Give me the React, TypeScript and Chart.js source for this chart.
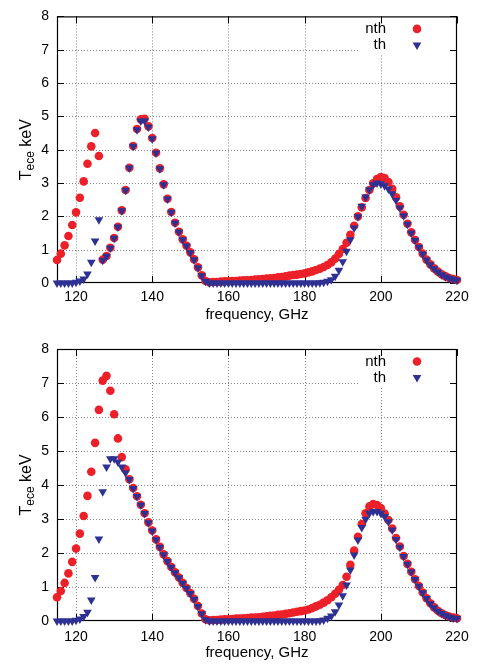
import React, { useEffect, useRef } from 'react';
import { Chart, registerables } from 'chart.js';

Chart.register(...registerables);

const FREQ = [
  115, 116, 117, 118, 119, 120, 121, 122, 123, 124, 125, 126, 127, 128, 129, 130, 131, 132, 133, 134,
  135, 136, 137, 138, 139, 140, 141, 142, 143, 144, 145, 146, 147, 148, 149, 150, 151, 152, 153, 154,
  155, 156, 157, 158, 159, 160, 161, 162, 163, 164, 165, 166, 167, 168, 169, 170, 171, 172, 173, 174,
  175, 176, 177, 178, 179, 180, 181, 182, 183, 184, 185, 186, 187, 188, 189, 190, 191, 192, 193, 194,
  195, 196, 197, 198, 199, 200, 201, 202, 203, 204, 205, 206, 207, 208, 209, 210, 211, 212, 213, 214,
  215, 216, 217, 218, 219, 220,
];

const TOP_NTH = [
  0.69, 0.88, 1.13, 1.41, 1.74, 2.12, 2.56, 3.05, 3.58, 4.10, 4.50, 3.81, 0.70, 0.81, 1.06, 1.35, 1.69, 2.18, 2.79, 3.46,
  4.11, 4.62, 4.91, 4.93, 4.70, 4.35, 3.91, 3.44, 2.96, 2.53, 2.13, 1.81, 1.54, 1.31, 1.12, 0.92, 0.71, 0.47, 0.23, 0.06,
  0.02, 0.03, 0.03, 0.04, 0.05, 0.05, 0.06, 0.06, 0.07, 0.08, 0.08, 0.09, 0.10, 0.11, 0.12, 0.13, 0.14, 0.15, 0.17, 0.18,
  0.20, 0.22, 0.24, 0.25, 0.27, 0.29, 0.32, 0.35, 0.39, 0.43, 0.48, 0.54, 0.62, 0.73, 0.87, 1.02, 1.21, 1.45, 1.72, 2.00,
  2.27, 2.55, 2.79, 2.99, 3.12, 3.18, 3.15, 3.03, 2.83, 2.57, 2.30, 2.05, 1.78, 1.52, 1.29, 1.08, 0.88, 0.70, 0.56, 0.44,
  0.34, 0.26, 0.20, 0.15, 0.12, 0.09,
];

const TOP_TH = [
  0, 0, 0, 0, 0, 0.02, 0.06, 0.12, 0.27, 0.62, 1.26, 1.90, 0.68, 0.80, 1.05, 1.34, 1.68, 2.17, 2.78, 3.45,
  4.10, 4.60, 4.86, 4.87, 4.68, 4.33, 3.90, 3.43, 2.95, 2.52, 2.12, 1.80, 1.53, 1.30, 1.11, 0.91, 0.70, 0.46, 0.22, 0.05,
  0, 0, 0, 0, 0, 0, 0, 0, 0, 0, 0, 0, 0, 0, 0, 0, 0, 0, 0, 0,
  0, 0, 0, 0, 0, 0, 0, 0, 0, 0.01, 0.02, 0.05, 0.10, 0.20, 0.38, 0.64, 0.95, 1.30, 1.65, 1.99,
  2.30, 2.58, 2.80, 2.95, 3.00, 2.98, 2.92, 2.82, 2.68, 2.48, 2.25, 2.02, 1.76, 1.50, 1.28, 1.07, 0.87, 0.69, 0.55, 0.43,
  0.33, 0.25, 0.19, 0.14, 0.11, 0.08,
];

const BOTTOM_NTH = [
  0.70, 0.88, 1.12, 1.40, 1.74, 2.13, 2.57, 3.09, 3.68, 4.39, 5.24, 6.21, 7.07, 7.21, 6.77, 6.08, 5.37, 4.82, 4.46, 4.17,
  3.91, 3.67, 3.42, 3.17, 2.90, 2.66, 2.40, 2.18, 1.96, 1.76, 1.59, 1.43, 1.28, 1.12, 0.97, 0.82, 0.65, 0.44, 0.22, 0.05,
  0.02, 0.03, 0.03, 0.04, 0.05, 0.05, 0.06, 0.07, 0.07, 0.08, 0.09, 0.10, 0.10, 0.11, 0.12, 0.14, 0.15, 0.16, 0.18, 0.19,
  0.21, 0.23, 0.25, 0.27, 0.29, 0.31, 0.34, 0.38, 0.43, 0.48, 0.54, 0.61, 0.70, 0.80, 0.92, 1.06, 1.30, 1.65, 2.07, 2.48,
  2.85, 3.17, 3.37, 3.44, 3.41, 3.32, 3.16, 2.97, 2.72, 2.44, 2.19, 1.91, 1.68, 1.45, 1.23, 1.03, 0.84, 0.67, 0.52, 0.40,
  0.30, 0.23, 0.17, 0.13, 0.10, 0.08,
];

const BOTTOM_TH = [
  0, 0, 0, 0, 0, 0.02, 0.06, 0.13, 0.26, 0.62, 1.28, 2.41, 3.80, 4.53, 4.77, 4.77, 4.68, 4.53, 4.36, 4.16,
  3.90, 3.66, 3.41, 3.16, 2.89, 2.65, 2.39, 2.17, 1.95, 1.75, 1.58, 1.42, 1.27, 1.11, 0.96, 0.81, 0.64, 0.43, 0.21, 0.04,
  0, 0, 0, 0, 0, 0, 0, 0, 0, 0, 0, 0, 0, 0, 0, 0, 0, 0, 0, 0,
  0, 0, 0, 0, 0, 0, 0, 0, 0, 0.01, 0.03, 0.08, 0.15, 0.27, 0.47, 0.74, 1.06, 1.50, 1.94, 2.38,
  2.75, 2.99, 3.17, 3.22, 3.22, 3.17, 3.07, 2.92, 2.68, 2.40, 2.17, 1.90, 1.67, 1.44, 1.22, 1.02, 0.83, 0.66, 0.51, 0.39,
  0.29, 0.22, 0.16, 0.12, 0.09, 0.07,
];

const X_TICKS = [120, 140, 160, 180, 200, 220];
const Y_TICKS = [0, 1, 2, 3, 4, 5, 6, 7, 8];
const X_MIN = 115;
const X_MAX = 220;
const Y_MIN = 0;
const Y_MAX = 8;
const SERIES_LABELS = ['nth', 'th'];
const X_TITLE = 'frequency, GHz';
const Y_TITLE_MAIN = 'T';
const Y_TITLE_SUB = 'ece';
const Y_TITLE_REST = ' keV';

const RED = '#EC2028';
const BLUE = '#2E3192';
const FONT = "'Liberation Sans', Arial, Helvetica, sans-serif";
const CIRCLE_R = 4.3;
const TRI_R = 5.0;

function drawDownTriangle(ctx: CanvasRenderingContext2D, x: number, y: number, r: number) {
  ctx.beginPath();
  for (let k = 0; k < 3; k++) {
    const ang = Math.PI + (k * 2 * Math.PI) / 3;
    const px = x + Math.sin(ang) * r;
    const py = y - Math.cos(ang) * r;
    if (k === 0) ctx.moveTo(px, py);
    else ctx.lineTo(px, py);
  }
  ctx.closePath();
  ctx.fill();
}

function makeDecoPlugin(xTitleOffset: number) {
  return {
    id: 'deco',
    beforeDatasetsDraw(chart: any) {
      const { ctx, chartArea: a } = chart;
      const xs = chart.scales.x;
      const ys = chart.scales.y;
      ctx.save();
      // dotted grid
      ctx.lineWidth = 1;
      ctx.strokeStyle = '#858585';
      ctx.setLineDash([1, 2]);
      ctx.beginPath();
      X_TICKS.forEach((v) => {
        if (v <= X_MIN || v >= X_MAX) return;
        const p = Math.round(xs.getPixelForValue(v)) + 0.5;
        ctx.moveTo(p, a.top);
        ctx.lineTo(p, a.bottom);
      });
      Y_TICKS.forEach((v) => {
        if (v <= Y_MIN || v >= Y_MAX) return;
        const p = Math.round(ys.getPixelForValue(v)) + 0.5;
        ctx.moveTo(a.left, p);
        ctx.lineTo(a.right, p);
      });
      ctx.stroke();
      ctx.setLineDash([]);
      // legend background
      ctx.fillStyle = '#ffffff';
      ctx.fillRect(a.right - 99, a.top + 1, 98, 36);
      // frame
      ctx.strokeStyle = '#000000';
      ctx.lineWidth = 1.2;
      ctx.strokeRect(a.left + 0.5, a.top + 0.5, a.right - a.left - 1, a.bottom - a.top - 1);
      // inward ticks
      const tl = 7;
      ctx.lineWidth = 1;
      ctx.beginPath();
      X_TICKS.forEach((v) => {
        const p = Math.round(xs.getPixelForValue(v)) + 0.5;
        ctx.moveTo(p, a.bottom);
        ctx.lineTo(p, a.bottom - tl);
        ctx.moveTo(p, a.top);
        ctx.lineTo(p, a.top + tl);
      });
      Y_TICKS.forEach((v) => {
        const p = Math.round(ys.getPixelForValue(v)) + 0.5;
        ctx.moveTo(a.left, p);
        ctx.lineTo(a.left + tl, p);
        ctx.moveTo(a.right, p);
        ctx.lineTo(a.right - tl, p);
      });
      ctx.stroke();
      ctx.restore();
    },
    afterDraw(chart: any) {
      const { ctx, chartArea: a } = chart;
      ctx.save();
      // legend
      ctx.font = `15px ${FONT}`;
      ctx.fillStyle = '#000';
      ctx.textAlign = 'right';
      ctx.textBaseline = 'middle';
      const tx = a.right - 71;
      const mx = a.right - 40;
      const y1 = a.top + 12.5;
      const y2 = a.top + 28.5;
      ctx.fillText(SERIES_LABELS[0], tx, y1);
      ctx.fillText(SERIES_LABELS[1], tx, y2);
      ctx.fillStyle = RED;
      ctx.beginPath();
      ctx.arc(mx, y1, CIRCLE_R, 0, Math.PI * 2);
      ctx.fill();
      ctx.fillStyle = BLUE;
      drawDownTriangle(ctx, mx, y2, TRI_R);
      // x title
      ctx.fillStyle = '#000';
      ctx.textAlign = 'center';
      ctx.textBaseline = 'alphabetic';
      ctx.font = `15px ${FONT}`;
      ctx.fillText(X_TITLE, (a.left + a.right) / 2, a.bottom + xTitleOffset);
      // y title (rotated, with subscript)
      ctx.translate(31, (a.top + a.bottom) / 2);
      ctx.rotate(-Math.PI / 2);
      ctx.textAlign = 'left';
      ctx.font = `16px ${FONT}`;
      const w1 = ctx.measureText(Y_TITLE_MAIN).width;
      const w3 = ctx.measureText(Y_TITLE_REST).width;
      ctx.font = `12px ${FONT}`;
      const w2 = ctx.measureText(Y_TITLE_SUB).width;
      let x = -(w1 + w2 + w3) / 2;
      ctx.font = `16px ${FONT}`;
      ctx.fillText(Y_TITLE_MAIN, x, 0);
      x += w1;
      ctx.font = `12px ${FONT}`;
      ctx.fillText(Y_TITLE_SUB, x, 3);
      x += w2;
      ctx.font = `16px ${FONT}`;
      ctx.fillText(Y_TITLE_REST, x, 0);
      ctx.restore();
    },
  };
}

type PanelProps = {
  nth: number[];
  th: number[];
  height: number;
  padTop: number;
  axisH: number;
  tickPad: number;
  xTitleOffset: number;
};

function Panel({ nth, th, height, padTop, axisH, tickPad, xTitleOffset }: PanelProps) {
  const ref = useRef<HTMLCanvasElement>(null);
  useEffect(() => {
    const toPts = (vals: number[]) => FREQ.map((f, i) => ({ x: f, y: vals[i] }));
    const chart = new Chart(ref.current as HTMLCanvasElement, {
      type: 'scatter',
      data: {
        datasets: [
          {
            label: SERIES_LABELS[0],
            data: toPts(nth),
            pointStyle: 'circle',
            pointRadius: CIRCLE_R,
            pointBackgroundColor: RED,
            pointBorderColor: RED,
            pointBorderWidth: 0,
            showLine: false,
            clip: false,
            order: 2,
          } as any,
          {
            label: SERIES_LABELS[1],
            data: toPts(th),
            pointStyle: 'triangle',
            pointRotation: 180,
            pointRadius: TRI_R,
            pointBackgroundColor: BLUE,
            pointBorderColor: BLUE,
            pointBorderWidth: 0,
            showLine: false,
            clip: false,
            order: 1,
          } as any,
        ],
      },
      options: {
        responsive: false,
        animation: false,
        events: [],
        layout: { padding: { top: padTop, right: 23, left: 0, bottom: 0 } },
        plugins: { legend: { display: false }, tooltip: { enabled: false } },
        scales: {
          x: {
            type: 'linear',
            min: X_MIN,
            max: X_MAX,
            afterBuildTicks: (s: any) => {
              s.ticks = X_TICKS.map((v) => ({ value: v }));
            },
            afterFit: (s: any) => {
              s.height = axisH;
            },
            grid: { display: false, drawTicks: false },
            border: { display: false },
            ticks: {
              color: '#000',
              font: { family: FONT, size: 14 },
              padding: tickPad,
              maxRotation: 0,
              autoSkip: false,
            },
          },
          y: {
            type: 'linear',
            min: Y_MIN,
            max: Y_MAX,
            afterBuildTicks: (s: any) => {
              s.ticks = Y_TICKS.map((v) => ({ value: v }));
            },
            afterFit: (s: any) => {
              s.width = 57;
            },
            grid: { display: false, drawTicks: false },
            border: { display: false },
            ticks: {
              color: '#000',
              font: { family: FONT, size: 14 },
              padding: 8,
              autoSkip: false,
            },
          },
        },
      } as any,
      plugins: [makeDecoPlugin(xTitleOffset) as any],
    });
    return () => chart.destroy();
  }, [nth, th, height, padTop, axisH, tickPad, xTitleOffset]);
  return (
    <canvas
      ref={ref}
      width={480}
      height={height}
      style={{ display: 'block', width: 480, height }}
    />
  );
}

export default function App() {
  return (
    <div
      style={{
        position: 'absolute',
        left: 0,
        top: 0,
        width: 480,
        height: 664,
        background: '#fff',
      }}
    >
      <Panel nth={TOP_NTH} th={TOP_TH} height={332} padTop={11} axisH={49} tickPad={6} xTitleOffset={36} />
      <Panel nth={BOTTOM_NTH} th={BOTTOM_TH} height={332} padTop={17} axisH={43} tickPad={8} xTitleOffset={36} />
    </div>
  );
}
